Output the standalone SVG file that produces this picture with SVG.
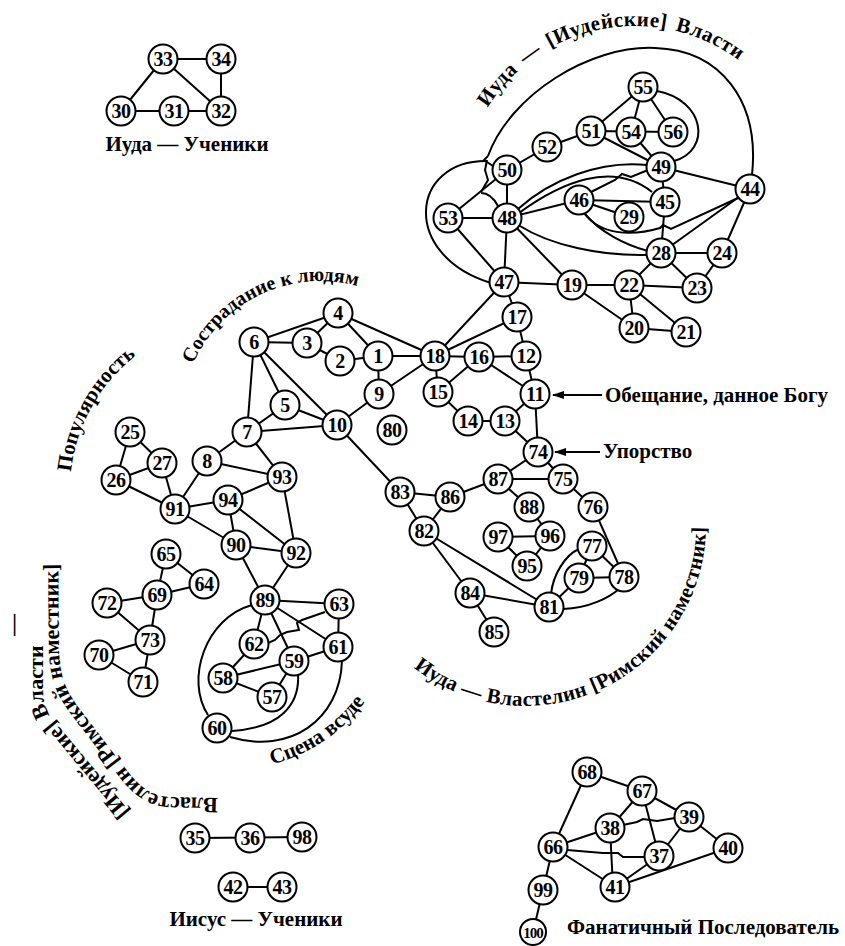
<svg xmlns="http://www.w3.org/2000/svg" width="845" height="946" viewBox="0 0 845 946">
<style>
.e line,.e path,.e polyline{stroke:#000;stroke-width:2;fill:none}
.n circle{fill:#fff;stroke:#000;stroke-width:2}
.n text{font-family:"Liberation Serif",serif;font-size:20px;font-weight:bold;text-anchor:middle;letter-spacing:-0.5px}
.lbl{font-family:"Liberation Serif",serif;font-weight:bold;font-size:21px;fill:#000}
</style>
<defs>
<marker id="ah" markerUnits="userSpaceOnUse" markerWidth="12" markerHeight="8" refX="11" refY="4" orient="auto"><path d="M0,0 L12,4 L0,8 z" fill="#000"/></marker>
<path id="p_sos" d="M193,364 A139,139 0 0,1 367.5,289.4"/>
<path id="p_pop" d="M71,472 A170,170 0 0,1 168.2,336"/>
<path id="p_iuda" d="M487.4,107.8 A174,174 0 0,1 768.3,88.2"/>
<path id="p_vlast" d="M413.6,667.6 A181,181 0 0,0 705.3,509.2"/>
<path id="p_lin" d="M218,798 L170,797 C150,796 140,786 128,772 L82,712 C68,694 60,680 59,650 L58,540"/>
<path id="p_lout" d="M130,812 L52,718 Q43,707 43,690 L43,590"/>
<path id="p_scena" d="M272.1,764.4 A171,171 0 0,0 388,660"/>
</defs>
<rect width="845" height="946" fill="#fff"/>
<g id="connectors" class="e">
<line x1="163" y1="59" x2="221" y2="59"/><line x1="163" y1="59" x2="121" y2="111"/><line x1="163" y1="59" x2="221" y2="111"/><line x1="221" y1="59" x2="221" y2="111"/><line x1="121" y1="111" x2="221" y2="111"/>
<line x1="338" y1="313" x2="254" y2="342"/><line x1="254" y1="342" x2="307" y2="343"/><line x1="307" y1="343" x2="338" y2="313"/><line x1="307" y1="343" x2="340" y2="361"/><line x1="340" y1="361" x2="378" y2="356"/><line x1="338" y1="313" x2="378" y2="356"/><line x1="338" y1="313" x2="435" y2="356"/><line x1="378" y1="356" x2="435" y2="356"/><line x1="378" y1="356" x2="379" y2="394"/><line x1="379" y1="394" x2="435" y2="356"/><line x1="379" y1="394" x2="337" y2="425"/>
<line x1="254" y1="342" x2="337" y2="425"/><line x1="254" y1="342" x2="285" y2="405"/><line x1="254" y1="342" x2="247" y2="432"/><line x1="285" y1="405" x2="337" y2="425"/><line x1="285" y1="405" x2="247" y2="432"/><line x1="247" y1="432" x2="337" y2="425"/><line x1="247" y1="432" x2="207" y2="461"/><line x1="247" y1="432" x2="282" y2="477"/><line x1="207" y1="461" x2="282" y2="477"/><line x1="207" y1="461" x2="175" y2="509"/>
<line x1="162" y1="463" x2="175" y2="509"/><line x1="116" y1="480" x2="175" y2="509"/><line x1="130" y1="432" x2="162" y2="463"/><line x1="130" y1="432" x2="116" y2="480"/><line x1="116" y1="480" x2="162" y2="463"/>
<line x1="175" y1="509" x2="228" y2="500"/><line x1="175" y1="509" x2="236" y2="545"/><line x1="228" y1="500" x2="282" y2="477"/><line x1="228" y1="500" x2="236" y2="545"/><line x1="228" y1="500" x2="296" y2="553"/><line x1="236" y1="545" x2="296" y2="553"/><line x1="282" y1="477" x2="296" y2="553"/><line x1="236" y1="545" x2="265" y2="600"/><line x1="296" y1="553" x2="265" y2="600"/>
<line x1="337" y1="425" x2="400" y2="492"/><line x1="400" y1="492" x2="450" y2="497"/><line x1="400" y1="492" x2="424" y2="531"/><line x1="450" y1="497" x2="424" y2="531"/><line x1="450" y1="497" x2="498" y2="479"/><line x1="498" y1="479" x2="538" y2="452"/><line x1="498" y1="479" x2="563" y2="479"/><line x1="498" y1="479" x2="529" y2="507"/><line x1="538" y1="452" x2="563" y2="479"/><line x1="538" y1="452" x2="535" y2="394"/><line x1="538" y1="452" x2="505" y2="421"/>
<line x1="535" y1="394" x2="505" y2="421"/><line x1="535" y1="394" x2="526" y2="356"/><line x1="535" y1="394" x2="479" y2="357"/><line x1="526" y1="356" x2="517" y2="317"/><line x1="479" y1="357" x2="526" y2="356"/><line x1="479" y1="357" x2="435" y2="356"/><line x1="479" y1="357" x2="438" y2="392"/><line x1="438" y1="392" x2="435" y2="356"/><line x1="438" y1="392" x2="468" y2="421"/><line x1="468" y1="421" x2="505" y2="421"/><line x1="517" y1="317" x2="435" y2="356"/><line x1="504" y1="282" x2="435" y2="356"/><line x1="517" y1="317" x2="504" y2="282"/>
<line x1="563" y1="479" x2="593" y2="507"/><line x1="593" y1="507" x2="624" y2="577"/><line x1="592" y1="546" x2="624" y2="577"/><line x1="592" y1="546" x2="579" y2="578"/><line x1="579" y1="578" x2="624" y2="577"/><line x1="579" y1="578" x2="549" y2="607"/>
<line x1="424" y1="531" x2="549" y2="607"/><line x1="424" y1="531" x2="470" y2="593"/><line x1="470" y1="593" x2="549" y2="607"/><line x1="470" y1="593" x2="494" y2="632"/><line x1="529" y1="507" x2="550" y2="536"/><line x1="498" y1="537" x2="550" y2="536"/><line x1="550" y1="536" x2="527" y2="566"/><line x1="498" y1="537" x2="527" y2="566"/>
<line x1="265" y1="600" x2="339" y2="604"/><line x1="265" y1="600" x2="338" y2="647"/><line x1="265" y1="600" x2="254" y2="644"/><line x1="265" y1="600" x2="294" y2="661"/><line x1="339" y1="604" x2="338" y2="647"/><line x1="338" y1="647" x2="294" y2="661"/><line x1="294" y1="661" x2="223" y2="678"/><line x1="223" y1="678" x2="254" y2="644"/><line x1="223" y1="678" x2="272" y2="697"/><line x1="272" y1="697" x2="294" y2="661"/>
<line x1="157" y1="595" x2="166" y2="554"/><line x1="166" y1="554" x2="204" y2="584"/><line x1="157" y1="595" x2="204" y2="584"/><line x1="157" y1="595" x2="107" y2="603"/><line x1="157" y1="595" x2="150" y2="640"/><line x1="107" y1="603" x2="150" y2="640"/><line x1="150" y1="640" x2="99" y2="655"/><line x1="150" y1="640" x2="143" y2="682"/><line x1="99" y1="655" x2="143" y2="682"/>
<line x1="195" y1="838" x2="302" y2="837"/><line x1="233" y1="887" x2="282" y2="887"/>
<line x1="587" y1="772" x2="553" y2="847"/><line x1="587" y1="772" x2="642" y2="791"/><line x1="642" y1="791" x2="610" y2="828"/><line x1="642" y1="791" x2="659" y2="856"/><line x1="642" y1="791" x2="689" y2="817"/><line x1="610" y1="828" x2="553" y2="847"/><line x1="610" y1="828" x2="613" y2="887"/><line x1="553" y1="847" x2="615" y2="887"/><line x1="615" y1="887" x2="659" y2="856"/><line x1="615" y1="887" x2="728" y2="848"/><line x1="689" y1="817" x2="659" y2="856"/><line x1="689" y1="817" x2="728" y2="848"/><line x1="553" y1="847" x2="543" y2="890"/><line x1="543" y1="890" x2="533" y2="932"/>
<line x1="547" y1="147" x2="507" y2="170"/><line x1="547" y1="147" x2="591" y2="131"/><line x1="591" y1="131" x2="673" y2="132"/><line x1="643" y1="87" x2="591" y2="131"/><line x1="643" y1="87" x2="631" y2="132"/><line x1="643" y1="87" x2="673" y2="132"/><line x1="591" y1="131" x2="661" y2="167"/><line x1="631" y1="132" x2="661" y2="167"/><line x1="661" y1="167" x2="665" y2="202"/><line x1="661" y1="167" x2="750" y2="189"/>
<line x1="507" y1="218" x2="507" y2="170"/><line x1="448" y1="218" x2="507" y2="170"/><line x1="507" y1="218" x2="448" y2="218"/><line x1="507" y1="218" x2="504" y2="282"/><line x1="448" y1="218" x2="504" y2="282"/><line x1="507" y1="218" x2="572" y2="285"/><line x1="504" y1="282" x2="572" y2="285"/><line x1="507" y1="218" x2="579" y2="200"/><line x1="579" y1="200" x2="665" y2="202"/><line x1="579" y1="200" x2="629" y2="217"/><line x1="665" y1="202" x2="661" y2="253"/><line x1="750" y1="189" x2="661" y2="253"/>
<line x1="661" y1="253" x2="722" y2="253"/><line x1="661" y1="253" x2="629" y2="285"/><line x1="661" y1="253" x2="697" y2="288"/><line x1="722" y1="253" x2="697" y2="288"/><line x1="722" y1="253" x2="750" y2="189"/><line x1="629" y1="285" x2="572" y2="285"/><line x1="629" y1="285" x2="697" y2="288"/><line x1="629" y1="285" x2="634" y2="328"/><line x1="629" y1="285" x2="686" y2="332"/><line x1="572" y1="285" x2="634" y2="328"/><line x1="634" y1="328" x2="686" y2="332"/>
<path d="M657,91 C705,100 712,150 674,161"/>
<path d="M488,156 C510,95 590,45 655,48 C720,50 760,100 752,175"/>
<path d="M487,161 C410,160 400,255 491,283"/>
<polyline points="488,156 484,160 493,166"/>
<polyline points="487,160 485,170 488,180 481,192"/>
<path d="M481,193 Q491,193 498,206"/>
<path d="M518,209 C550,180 600,160 647,165"/>
<path d="M519,213 C560,183 612,160 652,192"/>
<polyline points="591,192 615,180 622,174 631,177 648,170"/>
<path d="M584,213 C600,232 625,245 648,251"/>
<path d="M585,214 C600,234 630,237 660,228 L663,225 L671,229 L738,198"/>
<path d="M520,226 C550,245 600,256 647,255"/>
<path d="M551,594 C553,575 565,555 579,549"/>
<path d="M563,609 C590,608 610,597 619,589"/>
<path d="M252,605 C205,618 185,680 208,715"/>
<path d="M298,674 C300,705 280,728 232,731"/>
<path d="M342,661 C340,720 290,755 230,737"/>
<polyline points="325,612 302,620 297,623 299,630 287,632 280,635 275,640 268,643"/>
<polyline points="567,850 603,853 618,853 623,857 645,857"/>
<polyline points="623,825 637,822 643,819 657,821 675,818"/>
<line x1="602" y1="395" x2="553" y2="395" marker-end="url(#ah)"/>
<line x1="600" y1="452" x2="555" y2="452" marker-end="url(#ah)"/>
</g>
<g id="nodes">
<g id="n30" class="n"><circle cx="121" cy="111" r="14.5"/><text x="121" y="118">30</text></g>
<g id="n31" class="n"><circle cx="174" cy="111" r="14.5"/><text x="174" y="118">31</text></g>
<g id="n32" class="n"><circle cx="221" cy="111" r="14.5"/><text x="221" y="118">32</text></g>
<g id="n33" class="n"><circle cx="163" cy="59" r="14.5"/><text x="163" y="66">33</text></g>
<g id="n34" class="n"><circle cx="221" cy="59" r="14.5"/><text x="221" y="66">34</text></g>
<g id="n1" class="n"><circle cx="378" cy="356" r="14.5"/><text x="378" y="363">1</text></g>
<g id="n2" class="n"><circle cx="340" cy="361" r="14.5"/><text x="340" y="368">2</text></g>
<g id="n3" class="n"><circle cx="307" cy="343" r="14.5"/><text x="307" y="350">3</text></g>
<g id="n4" class="n"><circle cx="338" cy="313" r="14.5"/><text x="338" y="320">4</text></g>
<g id="n5" class="n"><circle cx="285" cy="405" r="14.5"/><text x="285" y="412">5</text></g>
<g id="n6" class="n"><circle cx="254" cy="342" r="14.5"/><text x="254" y="349">6</text></g>
<g id="n7" class="n"><circle cx="247" cy="432" r="14.5"/><text x="247" y="439">7</text></g>
<g id="n8" class="n"><circle cx="207" cy="461" r="14.5"/><text x="207" y="468">8</text></g>
<g id="n9" class="n"><circle cx="379" cy="394" r="14.5"/><text x="379" y="401">9</text></g>
<g id="n10" class="n"><circle cx="337" cy="425" r="14.5"/><text x="337" y="432">10</text></g>
<g id="n11" class="n"><circle cx="535" cy="394" r="14.5"/><text x="535" y="401">11</text></g>
<g id="n12" class="n"><circle cx="526" cy="356" r="14.5"/><text x="526" y="363">12</text></g>
<g id="n13" class="n"><circle cx="505" cy="421" r="14.5"/><text x="505" y="428">13</text></g>
<g id="n14" class="n"><circle cx="468" cy="421" r="14.5"/><text x="468" y="428">14</text></g>
<g id="n15" class="n"><circle cx="438" cy="392" r="14.5"/><text x="438" y="399">15</text></g>
<g id="n16" class="n"><circle cx="479" cy="357" r="14.5"/><text x="479" y="364">16</text></g>
<g id="n17" class="n"><circle cx="517" cy="317" r="14.5"/><text x="517" y="324">17</text></g>
<g id="n18" class="n"><circle cx="435" cy="356" r="14.5"/><text x="435" y="363">18</text></g>
<g id="n19" class="n"><circle cx="572" cy="285" r="14.5"/><text x="572" y="292">19</text></g>
<g id="n20" class="n"><circle cx="634" cy="328" r="14.5"/><text x="634" y="335">20</text></g>
<g id="n21" class="n"><circle cx="686" cy="332" r="14.5"/><text x="686" y="339">21</text></g>
<g id="n22" class="n"><circle cx="629" cy="285" r="14.5"/><text x="629" y="292">22</text></g>
<g id="n23" class="n"><circle cx="697" cy="288" r="14.5"/><text x="697" y="295">23</text></g>
<g id="n24" class="n"><circle cx="722" cy="253" r="14.5"/><text x="722" y="260">24</text></g>
<g id="n25" class="n"><circle cx="130" cy="432" r="14.5"/><text x="130" y="439">25</text></g>
<g id="n26" class="n"><circle cx="116" cy="480" r="14.5"/><text x="116" y="487">26</text></g>
<g id="n27" class="n"><circle cx="162" cy="463" r="14.5"/><text x="162" y="470">27</text></g>
<g id="n28" class="n"><circle cx="661" cy="253" r="14.5"/><text x="661" y="260">28</text></g>
<g id="n29" class="n"><circle cx="629" cy="217" r="14.5"/><text x="629" y="224">29</text></g>
<g id="n35" class="n"><circle cx="195" cy="838" r="14.5"/><text x="195" y="845">35</text></g>
<g id="n36" class="n"><circle cx="250" cy="838" r="14.5"/><text x="250" y="845">36</text></g>
<g id="n37" class="n"><circle cx="659" cy="856" r="14.5"/><text x="659" y="863">37</text></g>
<g id="n38" class="n"><circle cx="610" cy="828" r="14.5"/><text x="610" y="835">38</text></g>
<g id="n39" class="n"><circle cx="689" cy="817" r="14.5"/><text x="689" y="824">39</text></g>
<g id="n40" class="n"><circle cx="728" cy="848" r="14.5"/><text x="728" y="855">40</text></g>
<g id="n41" class="n"><circle cx="615" cy="887" r="14.5"/><text x="615" y="894">41</text></g>
<g id="n42" class="n"><circle cx="233" cy="887" r="14.5"/><text x="233" y="894">42</text></g>
<g id="n43" class="n"><circle cx="282" cy="887" r="14.5"/><text x="282" y="894">43</text></g>
<g id="n44" class="n"><circle cx="750" cy="189" r="14.5"/><text x="750" y="196">44</text></g>
<g id="n45" class="n"><circle cx="665" cy="202" r="14.5"/><text x="665" y="209">45</text></g>
<g id="n46" class="n"><circle cx="579" cy="200" r="14.5"/><text x="579" y="207">46</text></g>
<g id="n47" class="n"><circle cx="504" cy="282" r="14.5"/><text x="504" y="289">47</text></g>
<g id="n48" class="n"><circle cx="507" cy="218" r="14.5"/><text x="507" y="225">48</text></g>
<g id="n49" class="n"><circle cx="661" cy="167" r="14.5"/><text x="661" y="174">49</text></g>
<g id="n50" class="n"><circle cx="507" cy="170" r="14.5"/><text x="507" y="177">50</text></g>
<g id="n51" class="n"><circle cx="591" cy="131" r="14.5"/><text x="591" y="138">51</text></g>
<g id="n52" class="n"><circle cx="547" cy="147" r="14.5"/><text x="547" y="154">52</text></g>
<g id="n53" class="n"><circle cx="448" cy="218" r="14.5"/><text x="448" y="225">53</text></g>
<g id="n54" class="n"><circle cx="631" cy="132" r="14.5"/><text x="631" y="139">54</text></g>
<g id="n55" class="n"><circle cx="643" cy="87" r="14.5"/><text x="643" y="94">55</text></g>
<g id="n56" class="n"><circle cx="673" cy="132" r="14.5"/><text x="673" y="139">56</text></g>
<g id="n57" class="n"><circle cx="272" cy="697" r="14.5"/><text x="272" y="704">57</text></g>
<g id="n58" class="n"><circle cx="223" cy="678" r="14.5"/><text x="223" y="685">58</text></g>
<g id="n59" class="n"><circle cx="294" cy="661" r="14.5"/><text x="294" y="668">59</text></g>
<g id="n60" class="n"><circle cx="217" cy="728" r="14.5"/><text x="217" y="735">60</text></g>
<g id="n61" class="n"><circle cx="338" cy="647" r="14.5"/><text x="338" y="654">61</text></g>
<g id="n62" class="n"><circle cx="254" cy="644" r="14.5"/><text x="254" y="651">62</text></g>
<g id="n63" class="n"><circle cx="339" cy="604" r="14.5"/><text x="339" y="611">63</text></g>
<g id="n64" class="n"><circle cx="204" cy="584" r="14.5"/><text x="204" y="591">64</text></g>
<g id="n65" class="n"><circle cx="166" cy="554" r="14.5"/><text x="166" y="561">65</text></g>
<g id="n66" class="n"><circle cx="553" cy="847" r="14.5"/><text x="553" y="854">66</text></g>
<g id="n67" class="n"><circle cx="642" cy="791" r="14.5"/><text x="642" y="798">67</text></g>
<g id="n68" class="n"><circle cx="587" cy="772" r="14.5"/><text x="587" y="779">68</text></g>
<g id="n69" class="n"><circle cx="157" cy="595" r="14.5"/><text x="157" y="602">69</text></g>
<g id="n70" class="n"><circle cx="99" cy="655" r="14.5"/><text x="99" y="662">70</text></g>
<g id="n71" class="n"><circle cx="143" cy="682" r="14.5"/><text x="143" y="689">71</text></g>
<g id="n72" class="n"><circle cx="107" cy="603" r="14.5"/><text x="107" y="610">72</text></g>
<g id="n73" class="n"><circle cx="150" cy="640" r="14.5"/><text x="150" y="647">73</text></g>
<g id="n74" class="n"><circle cx="538" cy="452" r="14.5"/><text x="538" y="459">74</text></g>
<g id="n75" class="n"><circle cx="563" cy="479" r="14.5"/><text x="563" y="486">75</text></g>
<g id="n76" class="n"><circle cx="593" cy="507" r="14.5"/><text x="593" y="514">76</text></g>
<g id="n77" class="n"><circle cx="592" cy="546" r="14.5"/><text x="592" y="553">77</text></g>
<g id="n78" class="n"><circle cx="624" cy="577" r="14.5"/><text x="624" y="584">78</text></g>
<g id="n79" class="n"><circle cx="579" cy="578" r="14.5"/><text x="579" y="585">79</text></g>
<g id="n80" class="n"><circle cx="392" cy="430" r="14.5"/><text x="392" y="437">80</text></g>
<g id="n81" class="n"><circle cx="549" cy="607" r="14.5"/><text x="549" y="614">81</text></g>
<g id="n82" class="n"><circle cx="424" cy="531" r="14.5"/><text x="424" y="538">82</text></g>
<g id="n83" class="n"><circle cx="400" cy="492" r="14.5"/><text x="400" y="499">83</text></g>
<g id="n84" class="n"><circle cx="470" cy="593" r="14.5"/><text x="470" y="600">84</text></g>
<g id="n85" class="n"><circle cx="494" cy="632" r="14.5"/><text x="494" y="639">85</text></g>
<g id="n86" class="n"><circle cx="450" cy="497" r="14.5"/><text x="450" y="504">86</text></g>
<g id="n87" class="n"><circle cx="498" cy="479" r="14.5"/><text x="498" y="486">87</text></g>
<g id="n88" class="n"><circle cx="529" cy="507" r="14.5"/><text x="529" y="514">88</text></g>
<g id="n89" class="n"><circle cx="265" cy="600" r="14.5"/><text x="265" y="607">89</text></g>
<g id="n90" class="n"><circle cx="236" cy="545" r="14.5"/><text x="236" y="552">90</text></g>
<g id="n91" class="n"><circle cx="175" cy="509" r="14.5"/><text x="175" y="516">91</text></g>
<g id="n92" class="n"><circle cx="296" cy="553" r="14.5"/><text x="296" y="560">92</text></g>
<g id="n93" class="n"><circle cx="282" cy="477" r="14.5"/><text x="282" y="484">93</text></g>
<g id="n94" class="n"><circle cx="228" cy="500" r="14.5"/><text x="228" y="507">94</text></g>
<g id="n95" class="n"><circle cx="527" cy="566" r="14.5"/><text x="527" y="573">95</text></g>
<g id="n96" class="n"><circle cx="550" cy="536" r="14.5"/><text x="550" y="543">96</text></g>
<g id="n97" class="n"><circle cx="498" cy="537" r="14.5"/><text x="498" y="544">97</text></g>
<g id="n98" class="n"><circle cx="302" cy="837" r="14.5"/><text x="302" y="844">98</text></g>
<g id="n99" class="n"><circle cx="543" cy="890" r="14.5"/><text x="543" y="897">99</text></g>
<g id="n100" class="n"><circle cx="533" cy="932" r="13"/><text x="533" y="937.5" style="font-size:15px;letter-spacing:-1px">100</text></g>
</g>
<g id="labels" class="lbl">
<text x="187" y="151" text-anchor="middle">Иуда — Ученики</text>
<text x="605" y="402">Обещание, данное Богу</text>
<text x="603" y="458">Упорство</text>
<text x="256" y="926" text-anchor="middle">Иисус — Ученики</text>
<text x="567" y="934">Фанатичный Последователь</text>
<text font-size="20"><textPath href="#p_sos">Сострадание к людям</textPath></text>
<text font-size="21"><textPath href="#p_pop">Популярность</textPath></text>
<text font-size="21" letter-spacing="0.5" word-spacing="3"><textPath href="#p_iuda">Иуда — [Иудейские] Власти</textPath></text>
<text font-size="21" letter-spacing="0.3"><textPath href="#p_vlast">Иуда — Властелин [Римский наместник]</textPath></text>
<text font-size="22"><textPath href="#p_lin">Властелин [Римский наместник]</textPath></text>
<text font-size="22"><textPath href="#p_lout">[Иудейские] Власти</textPath></text>
<text font-size="22" text-anchor="middle" transform="translate(19.5,625) rotate(-90)">—</text>
<text font-size="21"><textPath href="#p_scena">Сцена всуде</textPath></text>
</g>
</svg>
